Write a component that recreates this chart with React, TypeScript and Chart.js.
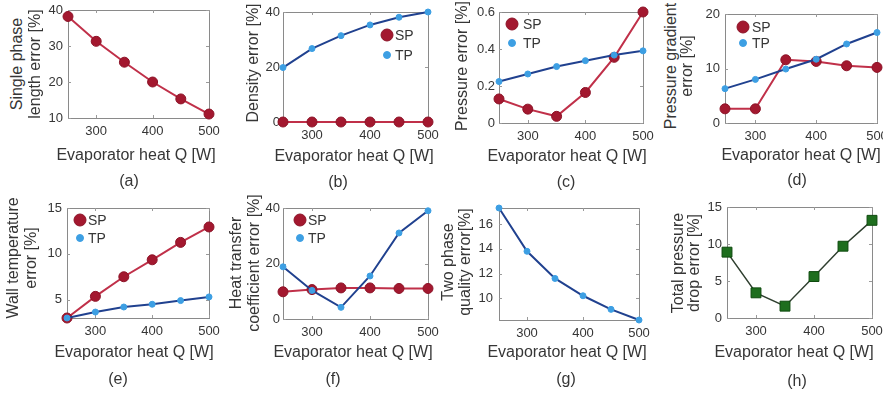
import React, { useEffect, useRef } from "react";
import { Chart, registerables } from "chart.js";
Chart.register(...registerables);

const FONT = "'Liberation Sans', Arial, Helvetica, sans-serif";
const TEXT = "#363636";

// ---------- data ----------
const heatQ = [250, 300, 350, 400, 450, 500];
const xTickValues = [300, 400, 500];
const xAxisTitle = "Evaporator heat Q [W]";

// (a) single phase length error
const singlePhaseLengthSP = [38.2, 31.3, 25.5, 20.0, 15.3, 11.1];
const ticksA = [10, 20, 30, 40];
// (b) density error
const densitySP = [0, 0, 0, 0, 0, 0];
const densityTP = [19.8, 26.7, 31.4, 35.3, 38.1, 40.0];
const ticksB = [0, 20, 40];
// (c) pressure error
const pressureSP = [0.13, 0.075, 0.036, 0.165, 0.355, 0.6];
const pressureTP = [0.224, 0.265, 0.305, 0.337, 0.367, 0.39];
const ticksC = [0, 0.2, 0.4, 0.6];
// (d) pressure gradient error
const gradientSP = [2.6, 2.6, 11.6, 11.3, 10.5, 10.2];
const gradientTP = [6.3, 8.0, 9.9, 11.7, 14.5, 16.6];
const ticksD = [0, 10, 20];
// (e) wall temperature error
const wallTempSP = [3.0, 5.36, 7.5, 9.35, 11.25, 12.93];
const wallTempTP = [3.0, 3.65, 4.2, 4.5, 4.9, 5.3];
const ticksE = [5, 10, 15];
// (f) heat transfer coefficient error
const htcSP = [9.8, 10.6, 11.2, 11.2, 11.0, 11.0];
const htcTP = [18.8, 10.3, 4.2, 15.5, 31.0, 39.0];
const ticksF = [0, 20, 40];
// (g) two phase quality error
const qualityTP = [17.3, 13.8, 11.6, 10.2, 9.1, 8.24];
const ticksG = [10, 12, 14, 16];
// (h) total pressure drop error
const totalDropError = [8.9, 3.4, 1.6, 5.6, 9.7, 13.2];
const ticksH = [0, 5, 10, 15];

type Kind = "SP" | "TP" | "TOTAL";
type Series = { label: string; kind: Kind; values: number[] };
type Panel = {
  id: string;
  plot: { l: number; t: number; r: number; b: number };
  yMin: number;
  yMax: number;
  yTicks: number[];
  yTickPad: number;
  series: Series[];
  legend?: { x: number; ys: number[]; textX: number };
  yTitle: { lines: string[]; xs: number[]; y: number };
  xTitle: { x: number; y: number };
  caption: { text: string; x: number; y: number };
};

const panels: Panel[] = [
  {
    id: "a",
    plot: { l: 68, t: 10, r: 209, b: 118 },
    yMin: 10, yMax: 40, yTicks: ticksA, yTickPad: 5,
    series: [{ label: "SP", kind: "SP", values: singlePhaseLengthSP }],
    yTitle: { lines: ["Single phase", "length error [%]"], xs: [17, 35], y: 64 },
    xTitle: { x: 136, y: 155 },
    caption: { text: "(a)", x: 129, y: 181 },
  },
  {
    id: "b",
    plot: { l: 283, t: 12, r: 428, b: 122 },
    yMin: 0, yMax: 40, yTicks: ticksB, yTickPad: 3,
    series: [
      { label: "SP", kind: "SP", values: densitySP },
      { label: "TP", kind: "TP", values: densityTP },
    ],
    legend: { x: 387, ys: [35, 55], textX: 395 },
    yTitle: { lines: ["Density error [%]"], xs: [253], y: 63 },
    xTitle: { x: 354, y: 156 },
    caption: { text: "(b)", x: 338, y: 182 },
  },
  {
    id: "c",
    plot: { l: 499, t: 12, r: 643, b: 123 },
    yMin: 0, yMax: 0.6, yTicks: ticksC, yTickPad: 4,
    series: [
      { label: "SP", kind: "SP", values: pressureSP },
      { label: "TP", kind: "TP", values: pressureTP },
    ],
    legend: { x: 512, ys: [24, 43], textX: 523 },
    yTitle: { lines: ["Pressure error [%]"], xs: [462], y: 66 },
    xTitle: { x: 567, y: 156 },
    caption: { text: "(c)", x: 566, y: 182 },
  },
  {
    id: "d",
    plot: { l: 725, t: 14, r: 878, b: 123 },
    yMin: 0, yMax: 20, yTicks: ticksD, yTickPad: 5,
    series: [
      { label: "SP", kind: "SP", values: gradientSP },
      { label: "TP", kind: "TP", values: gradientTP },
    ],
    legend: { x: 743, ys: [27, 43], textX: 752 },
    yTitle: { lines: ["Pressure gradient", "error [%]"], xs: [671, 687], y: 66 },
    xTitle: { x: 801, y: 155 },
    caption: { text: "(d)", x: 797, y: 180 },
  },
  {
    id: "e",
    plot: { l: 67, t: 208, r: 209, b: 318 },
    yMin: 3.0, yMax: 15, yTicks: ticksE, yTickPad: 5,
    series: [
      { label: "SP", kind: "SP", values: wallTempSP },
      { label: "TP", kind: "TP", values: wallTempTP },
    ],
    legend: { x: 80, ys: [220, 238], textX: 88 },
    yTitle: { lines: ["Wall temperature", "error [%]"], xs: [13, 31], y: 258 },
    xTitle: { x: 134, y: 352 },
    caption: { text: "(e)", x: 118, y: 379 },
  },
  {
    id: "f",
    plot: { l: 283, t: 208, r: 428, b: 319 },
    yMin: 0, yMax: 40, yTicks: ticksF, yTickPad: 3,
    series: [
      { label: "SP", kind: "SP", values: htcSP },
      { label: "TP", kind: "TP", values: htcTP },
    ],
    legend: { x: 300, ys: [220, 238], textX: 308 },
    yTitle: { lines: ["Heat transfer", "coefficient error [%]"], xs: [236, 254], y: 263 },
    xTitle: { x: 353, y: 352 },
    caption: { text: "(f)", x: 333, y: 379 },
  },
  {
    id: "g",
    plot: { l: 499, t: 208, r: 639, b: 320 },
    yMin: 8.24, yMax: 17.3, yTicks: ticksG, yTickPad: 6,
    series: [{ label: "TP", kind: "TP", values: qualityTP }],
    yTitle: { lines: ["Two phase", "quality error[%]"], xs: [448, 465], y: 262 },
    xTitle: { x: 567, y: 352 },
    caption: { text: "(g)", x: 566, y: 379 },
  },
  {
    id: "h",
    plot: { l: 727, t: 207, r: 872, b: 318 },
    yMin: 0, yMax: 15, yTicks: ticksH, yTickPad: 5,
    series: [{ label: "Total", kind: "TOTAL", values: totalDropError }],
    yTitle: { lines: ["Total pressure", "drop error [%]"], xs: [678, 694], y: 263 },
    xTitle: { x: 794, y: 352 },
    caption: { text: "(h)", x: 797, y: 381 },
  },
];

const STYLE: Record<Kind, any> = {
  SP: {
    borderColor: "#c03049", borderWidth: 2,
    pointBackgroundColor: "#a3182f", pointBorderColor: "#8c1327", pointBorderWidth: 1,
    pointRadius: 5, pointStyle: "circle", order: 1,
  },
  TP: {
    borderColor: "#20418f", borderWidth: 2,
    pointBackgroundColor: "#3d9fe3", pointBorderColor: "#3d9fe3", pointBorderWidth: 1,
    pointRadius: 3, pointStyle: "circle", order: 0,
  },
  TOTAL: {
    borderColor: "#2f3f2f", borderWidth: 1.5,
    pointBackgroundColor: "#1e6e1e", pointBorderColor: "#0e4a0e", pointBorderWidth: 1,
    pointRadius: 7, pointStyle: "rect", order: 0,
  },
};

function PanelChart({ p }: { p: Panel }) {
  const ref = useRef<HTMLCanvasElement>(null);
  const left = p.plot.l - 42;
  const top = p.plot.t - 14;
  const right = Math.min(883, p.plot.r + 14);
  const bottom = p.plot.b + 30;
  const W = right - left;
  const H = bottom - top;

  useEffect(() => {
    const tickFont = { family: FONT, size: 13 };
    const boxPlugin = {
      id: "box" + p.id,
      beforeDatasetsDraw(chart: any) {
        const { ctx, chartArea, scales } = chart;
        const { left: l, top: t, right: r, bottom: b } = chartArea;
        ctx.save();
        ctx.strokeStyle = "#8a8a8a";
        ctx.lineWidth = 1;
        ctx.strokeRect(Math.round(l) + 0.5, Math.round(t) + 0.5, Math.round(r - l), Math.round(b - t));
        ctx.strokeStyle = "#9a9a9a";
        ctx.beginPath();
        scales.x.ticks.forEach((tk: any) => {
          const px = Math.round(scales.x.getPixelForValue(tk.value)) + 0.5;
          ctx.moveTo(px, b); ctx.lineTo(px, b - 3);
          ctx.moveTo(px, t); ctx.lineTo(px, t + 3);
        });
        scales.y.ticks.forEach((tk: any) => {
          const py = Math.round(scales.y.getPixelForValue(tk.value)) + 0.5;
          ctx.moveTo(l, py); ctx.lineTo(l + 3, py);
          ctx.moveTo(r, py); ctx.lineTo(r - 3, py);
        });
        ctx.stroke();
        ctx.restore();
      },
    };
    const legendPlugin = {
      id: "miniLegend" + p.id,
      afterDraw(chart: any) {
        if (!p.legend) return;
        const { ctx } = chart;
        ctx.save();
        p.series.forEach((s, i) => {
          const st = STYLE[s.kind];
          const cx = p.legend!.x - left;
          const cy = p.legend!.ys[i] - top;
          ctx.beginPath();
          ctx.fillStyle = st.pointBackgroundColor;
          ctx.strokeStyle = st.pointBorderColor;
          ctx.arc(cx, cy, s.kind === "SP" ? 6 : 3.5, 0, Math.PI * 2);
          ctx.fill();
          ctx.stroke();
          ctx.fillStyle = TEXT;
          ctx.font = `14px ${FONT}`;
          ctx.textAlign = "left";
          ctx.textBaseline = "middle";
          ctx.fillText(s.label, p.legend!.textX - left, cy + 1);
        });
        ctx.restore();
      },
    };

    const chart = new Chart(ref.current as HTMLCanvasElement, {
      type: "line",
      data: {
        datasets: p.series.map((s) => ({
          label: s.label,
          data: heatQ.map((x, i) => ({ x, y: s.values[i] })),
          tension: 0,
          clip: false as any,
          ...STYLE[s.kind],
        })),
      },
      options: {
        animation: false,
        responsive: false,
        devicePixelRatio: 1,
        events: [],
        layout: {
          padding: { left: 0, top: p.plot.t - top, right: right - p.plot.r, bottom: 0 },
        },
        plugins: { legend: { display: false }, tooltip: { enabled: false } },
        scales: {
          x: {
            type: "linear",
            min: 250,
            max: 500,
            grid: { display: false, drawTicks: false },
            border: { display: false },
            ticks: { font: tickFont, color: TEXT, padding: 6, autoSkip: false, maxRotation: 0, callback: (v: any) => String(v) },
            afterBuildTicks: (s: any) => { s.ticks = xTickValues.map((v) => ({ value: v })); },
            afterFit: (s: any) => {
              s.height = bottom - p.plot.b;
              s.paddingLeft = 0; s.paddingRight = 0;
            },
          },
          y: {
            type: "linear",
            min: p.yMin,
            max: p.yMax,
            grid: { display: false, drawTicks: false },
            border: { display: false },
            ticks: { font: tickFont, color: TEXT, padding: p.yTickPad, autoSkip: false, callback: (v: any) => String(v) },
            afterBuildTicks: (s: any) => { s.ticks = p.yTicks.map((v) => ({ value: v })); },
            afterFit: (s: any) => {
              s.width = p.plot.l - left;
              s.paddingTop = 0; s.paddingBottom = 0;
            },
          },
        },
      } as any,
      plugins: [boxPlugin, legendPlugin],
    });
    return () => chart.destroy();
  }, []);

  return (
    <canvas
      ref={ref}
      width={W}
      height={H}
      style={{ position: "absolute", left, top, width: W, height: H }}
    />
  );
}

const textBase: React.CSSProperties = {
  position: "absolute",
  fontFamily: FONT,
  fontSize: 16,
  color: TEXT,
  whiteSpace: "nowrap",
  lineHeight: "18px",
};

export default function App() {
  return (
    <div style={{ position: "absolute", left: 0, top: 0, width: 883, height: 393, background: "#ffffff", overflow: "hidden" }}>
      {panels.map((p) => (
        <PanelChart key={p.id} p={p} />
      ))}
      {panels.map((p) => (
        <React.Fragment key={"t" + p.id}>
          {p.yTitle.lines.map((line, i) => (
            <div
              key={i}
              style={{
                ...textBase,
                left: p.yTitle.xs[i],
                top: p.yTitle.y,
                transform: "translate(-50%, -50%) rotate(-90deg)",
              }}
            >
              {line}
            </div>
          ))}
          <div style={{ ...textBase, left: p.xTitle.x, top: p.xTitle.y, transform: "translate(-50%, -50%)" }}>
            {xAxisTitle}
          </div>
          <div style={{ ...textBase, left: p.caption.x, top: p.caption.y, transform: "translate(-50%, -50%)" }}>
            {p.caption.text}
          </div>
        </React.Fragment>
      ))}
    </div>
  );
}
